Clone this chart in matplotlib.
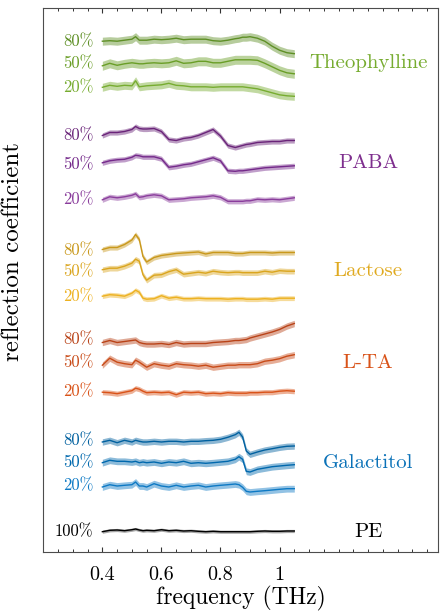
import matplotlib
matplotlib.use("Agg")
import matplotlib.pyplot as plt
from matplotlib.ticker import MultipleLocator

plt.rcParams['font.family'] = ['cmr10']
plt.rcParams['mathtext.fontset'] = 'cm'
plt.rcParams['axes.formatter.use_mathtext'] = True

# ---------------- data ----------------
freq = [0.4, 0.425, 0.45, 0.475, 0.5, 0.5125, 0.525, 0.5375, 0.55, 0.575, 0.6,
        0.625, 0.65, 0.675, 0.7, 0.725, 0.75, 0.775, 0.8, 0.825, 0.85, 0.8625,
        0.875, 0.8875, 0.9, 0.925, 0.95, 0.975, 1.0, 1.025, 1.05]

theo_80 = [0.5, 1, 0.5, 1.5, 2.5, 5, 1.5, 1.5, 1.5, 2.5, 2, 2.5, 3.5, 2, 2.5, 2.5, 2.5, 1, 0.5, 1.5, 3, 3.5, 4.5, 4.5, 5, 3.5, 0.5, -4.5, -8.5, -11, -12]
theo_50 = [-2.5, 0, -2, -0.5, 0.5, 0, -0.5, -0.5, 0, 0.5, 0, 0.5, 2.5, 0, 0.5, 2, 2, 0.5, 0.5, 2, 3.5, 3.5, 3.5, 3.5, 3.5, 3, 0, -3.5, -7, -9.5, -10.5]
theo_20 = [0, 2, 1, 2, 1.5, 6.5, 0.5, 1, 1.5, 2, 2.5, 4, 2, 1.5, 0.5, 0.5, 0.5, 0, 0.5, 0.5, 0.5, 0.5, 0.5, 0, -0.5, -1.5, -3.5, -5.5, -7.5, -8.5, -9]

paba_80 = [0.5, 3.5, 3.5, 4.5, 6.5, 9.5, 7.5, 7, 7, 7.5, 4.5, -3.5, -4.5, -2.5, -1.5, 0.5, 3.5, 6.5, 0, -9.5, -11.5, -10.5, -9.5, -8.5, -8, -6.5, -6, -5.5, -5.5, -4.5, -4.5]
paba_50 = [1.5, 3.5, 4.5, 5, 7, 9, 8.5, 7.5, 7.5, 7.5, 5.5, -3, -2, -0.5, 0.5, 2.5, 4.5, 6.5, 3.5, -6.5, -7, -6.5, -6.5, -6, -5.5, -4.5, -3.5, -3, -2.5, -2, -1.5]
paba_20 = [-0.5, 2.5, 1.5, 2.5, 4, 5.5, 2, 2.5, 3.5, 4.5, 3.5, -0.5, 0, 0.5, 1.5, 2, 2.5, 3.5, 2, -2, -2, -2, -2, -1.5, -1.5, 0, -0.5, 0, -0.5, 0.5, 1.5]

lact_80 = [1.5, 3.5, 3.5, 6.5, 11, 16.5, 11.5, -5.5, -11, -6.5, -4.5, -3.5, -2.5, -2, -1.5, -1, -3, -1.5, -1.5, -1.5, -2.5, -2.5, -2.5, -2, -1.5, -1.5, -1.5, -2, -1.5, -1.5, -1.5]
lact_50 = [2, 3.5, 3.5, 5.5, 8.5, 12.5, 10.5, -3, -8.5, -3.5, -3, 0, 2, -2.5, -1.5, -0.5, -1.5, 0.5, -0.5, -1, -0.5, -0.5, -1, -1, -1, -1, 0.5, -0.5, 1, 0.5, 0.5]
lact_20 = [0.5, 2, 1.5, 0.5, 3.5, 6.5, 4.5, -1.5, -2.5, -2, 1, -1.5, -0.5, -2, -2, -1.5, -2, -2, -2, -2.5, -2, -2, -2, -2.5, -2.5, -2.5, -2, -2.5, -1.5, -1.5, -1.5]

lta_80 = [-2.5, -0.5, -2.5, -1.5, -0.5, 0, -2.5, -3.5, -4, -4, -3.5, -4.5, -2.5, -4, -3.5, -3.5, -3.5, -2.5, -2, -1.5, -0.5, -0.5, 0, 0.5, 2, 4, 6, 8, 10.5, 14, 16.5]
lta_50 = [-2.5, 4.5, 0.5, -1, -2, 2.5, 0.5, -2, -4.5, -1, -2.5, -3.5, -1, -2, -2.5, -3.5, -2.5, -4.5, -3.5, -2.5, -2.5, -2, -2, -2, -2, -1, 1.5, 2.5, 4, 6.5, 8]
lta_20 = [-0.5, -1, -2, -0.5, 1, 3.5, 2.5, 0.5, -1, -0.5, -1, -0.5, -3, -0.5, -1, -0.5, -2, -1.5, -2, -1, -1.5, -1.5, -1.5, -1.5, -1, -1, -0.5, -0.5, 0.5, 1, 0.5]

gal_80 = [-1, 0.7, -1.7, 0.7, -1, 0.7, -0.3, -1, -1, -0.3, -1, -0.3, -0.3, -1, -0.3, -0.3, 0.3, 0.7, 1.7, 3.7, 6.3, 8.7, 4, -10, -13.3, -11, -9, -7.7, -6.3, -5.3, -5]
gal_50 = [0, 2.4, 1.4, 1.4, 0.7, 1.4, 0, 0.7, 0, 0.7, -0.6, 0.7, 0, 1.4, -0.6, 0, -0.6, 0, 0.7, 1.4, 3.4, 6, 3.4, -8.6, -9.3, -6.6, -5.3, -4, -3.3, -2.6, -2]
gal_20 = [-1, 1.3, 0, 0.7, 1.3, 4, 0, 0, -1, 2.3, 0, -1, 0.7, -1, 0, 0.7, -1, 0, 0.7, 1.3, 2, 1.3, -1.3, -5.3, -6, -5.3, -4.7, -4, -3.3, -2.7, -2.7]

pe_100 = [0, 1.4, 1.7, 1, 2, 2.7, 1.7, 1, 1.4, 1, 2, 1, 1.4, 0.7, 1, 0.4, 0, 0.4, 0, 0, 0, 0, 0, 0, 0, 0.4, 0.7, 0.4, 0.4, 0.7, 0.7]

samples = ['Theophylline', 'PABA', 'Lactose', 'L-TA', 'Galactitol', 'PE']
traces = [[theo_80, theo_50, theo_20], [paba_80, paba_50, paba_20],
          [lact_80, lact_50, lact_20], [lta_80, lta_50, lta_20],
          [gal_80, gal_50, gal_20], [pe_100]]
conc_labels = [['80%', '50%', '20%']] * 5 + [['100%']]
offsets = [[510.3, 488.7, 464.7], [416, 387.7, 352.7], [301, 280.3, 255.3],
           [212, 189.3, 160.3], [111, 89.3, 66], [20.3]]
name_y = [488.7, 388.7, 281, 188.7, 89.3, 20.3]
spread = [[4, 4.5, 4], [2.6, 2.6, 2.6], [2.6, 2.8, 2.4], [3.2, 3.2, 2.6], [3.2, 3.4, 3.4], [1.6]]

line_colors = [['#5e8f25', '#6a9e27', '#77ac30'],
               ['#6a2479', '#74298a', '#8a3d9c'],
               ['#c9981b', '#daa51e', '#edb120'],
               ['#b94318', '#c84b18', '#d95319'],
               ['#00609f', '#0068ad', '#0d79c4'],
               ['#000000']]
name_colors = ['#77ac30', '#7e2f8e', '#e0aa20', '#d95319', '#0b72b8', '#000000']

# ---------------- plot ----------------
fig = plt.figure(figsize=(4.43, 6.13), dpi=100)
ax = fig.add_axes([43.3 / 443, 61 / 613, (437.5 - 43.3) / 443, 544 / 613])

for g, name in enumerate(samples):
    for k, tr in enumerate(traces[g]):
        y = [offsets[g][k] + v for v in tr]
        lo = [v - spread[g][k] for v in y]
        hi = [v + spread[g][k] for v in y]
        c = line_colors[g][k]
        ax.fill_between(freq, lo, hi, color=c, alpha=0.45 if g < 5 else 0.35,
                        linewidth=0)
        ax.plot(freq, y, color=c, linewidth=1.0)
        ax.text(0.37, offsets[g][k], conc_labels[g][k], color=c,
                fontsize=12, ha='right', va='center')
    ax.text(1.30, name_y[g], name, color=name_colors[g], fontsize=15,
            ha='center', va='center')

ax.set_xlim(0.2, 1.535)
ax.set_ylim(0, 544)
ax.set_xticks([0.4, 0.6, 0.8, 1.0], ['0.4', '0.6', '0.8', '1'])
ax.xaxis.set_minor_locator(MultipleLocator(0.05))
ax.set_yticks([])
ax.tick_params(axis='x', which='both', direction='in', top=True, bottom=True,
               labelsize=14.5, pad=10, color='0.2')
ax.tick_params(axis='x', which='major', length=3.5, width=0.8)
ax.tick_params(axis='x', which='minor', length=2.5, width=0.7)
for s in ax.spines.values():
    s.set_color('0.3')
    s.set_linewidth(0.8)

ax.set_xlabel('frequency (THz)', fontsize=17, labelpad=1.5)
ax.set_ylabel('reflection coefficient', fontsize=18)
ax.yaxis.set_label_coords(-0.05, 0.552)

fig.savefig('out.png', dpi=100)
